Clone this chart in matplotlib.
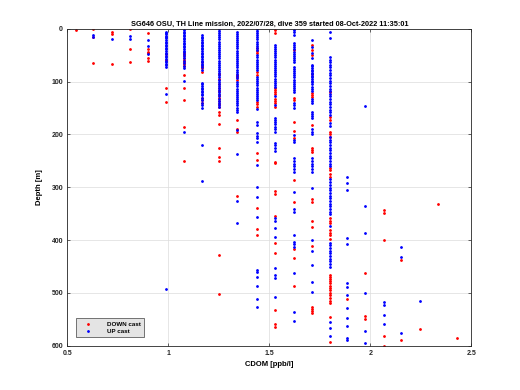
import matplotlib
matplotlib.use('Agg')
import matplotlib.pyplot as plt

# CDOM sensor values are quantized, one column per level
cdom_levels = [0.542, 0.629, 0.720, 0.810, 0.898, 0.990, 1.080, 1.165, 1.252, 1.341,
               1.440, 1.530, 1.620, 1.710, 1.800, 1.885, 1.975, 2.066, 2.154, 2.245,
               2.334, 2.430]

# depths [m] of samples at each level, down cast
down_depths = [
    [2],
    [1, 16, 64],
    [5, 10, 67],
    [1, 38, 63],
    [8, 39, 43, 46, 56, 60],
    [47, 58, 111, 139],
    [46, 50, 55, 58, 62, 66, 71, 87, 111, 135, 185, 250],
    [62, 70, 75, 82, 131, 135, 140],
    [85, 95, 105, 112, 118, 125, 130, 136, 142, 148, 157, 163, 180, 225, 242, 250, 428, 502],
    [87, 92, 97, 172, 190, 195, 317],
    [37, 42, 46, 82, 87, 138, 143, 148, 235, 248, 339, 379, 390],
    [2, 8, 112, 116, 120, 124, 132, 136, 140, 148, 252, 254, 307, 313, 354, 405, 424, 532, 559, 564],
    [40, 130, 135, 176, 193, 206, 286, 327, 417, 433, 487],
    [30, 40, 50, 85, 122, 126, 129, 182, 226, 230, 233, 322, 328, 364, 375, 412, 526, 530, 535, 539],
    [119, 166, 172, 195, 200, 204, 263, 268, 275, 280, 358, 363, 368, 381, 386, 391, 397,
     466, 470, 474, 478, 482, 486, 490, 495, 500, 504, 510, 515, 519, 545, 593],
    [512],
    [462, 544, 549],
    [343, 348, 400, 582, 600],
    [438, 590],
    [569],
    [332],
    [586],
]

# depths [m] of samples at each level, up cast
up_depths = [
    [],
    [11, 15],
    [19],
    [13, 19],
    [21, 32, 48],
    [5, 8, 10, 13, 15, 18, 21, 24, 27, 30, 33, 36, 39, 42, 45, 48, 51, 54, 57, 60, 63, 66,
     69, 72, 124, 493],
    [2, 5, 8, 11, 14, 17, 20, 23, 26, 29, 32, 35, 38, 41, 44, 48, 52, 56, 60, 64, 70, 74,
     99, 195],
    [12, 15, 18, 21, 24, 27, 30, 33, 36, 39, 42, 45, 48, 51, 54, 57, 60, 63, 66, 69, 72, 78,
     102, 105, 108, 111, 114, 117, 120, 123, 126, 130, 135, 140, 145, 150, 220, 288],
    [0, 4, 8, 12, 16, 20, 24, 28, 32, 36, 40, 44, 48, 52, 56, 60, 64, 68, 72, 76, 80, 84, 88,
     92, 96, 100, 104, 108, 112, 116, 120, 124, 128, 132, 136, 140, 144, 148],
    [5, 9, 13, 17, 21, 25, 29, 33, 37, 41, 45, 49, 53, 57, 61, 65, 69, 73, 77, 81, 85, 89,
     93, 101, 105, 109, 113, 117, 121, 125, 129, 133, 137, 141, 145, 149, 153, 157, 191,
     237, 326, 367],
    [0, 4, 8, 12, 16, 20, 24, 28, 32, 36, 40, 50, 54, 58, 62, 66, 70, 74, 78, 91, 95, 99,
     103, 107, 111, 115, 119, 123, 127, 131, 135, 152, 177, 182, 197, 202, 207, 214, 258,
     299, 318, 356, 457, 461, 470, 487, 512, 527],
    [30, 34, 38, 42, 46, 50, 54, 58, 62, 66, 70, 74, 78, 82, 86, 90, 94, 98, 102, 106, 110,
     127, 145, 168, 172, 176, 180, 185, 190, 195, 216, 220, 226, 232, 358, 364, 377, 394,
     452, 466, 472, 508],
    [2, 6, 11, 27, 31, 35, 39, 43, 47, 51, 55, 59, 63, 72, 76, 80, 84, 88, 92, 96, 100, 104,
     108, 112, 116, 120, 140, 145, 150, 201, 210, 215, 245, 250, 255, 260, 265, 271, 308,
     341, 347, 390, 404, 408, 413, 462, 537, 553],
    [21, 35, 45, 55, 68, 71, 74, 77, 80, 83, 86, 89, 92, 95, 98, 101, 104, 110, 114, 118,
     133, 137, 141, 157, 161, 165, 169, 190, 195, 200, 245, 250, 255, 260, 265, 271, 301,
     400, 420, 447, 480, 498],
    [5, 17, 53, 58, 63, 68, 73, 78, 83, 88, 93, 98, 103, 108, 113, 118, 123, 128, 133, 138,
     143, 148, 153, 158, 163, 178, 183, 205, 210, 215, 220, 225, 230, 235, 240, 245, 250,
     255, 260, 285, 290, 296, 301, 306, 311, 316, 321, 326, 331, 336, 341, 346, 351, 373,
     405, 410, 415, 420, 425, 430, 435, 440, 445, 451, 555, 567, 581],
    [280, 291, 305, 396, 407, 481, 489, 504, 529, 548, 563, 585, 590],
    [146, 335, 387, 500, 572, 595],
    [518, 523, 541, 559],
    [414, 432, 576],
    [515],
    [],
    [],
]

plt.rcParams['font.family'] = ['Liberation Sans', 'DejaVu Sans']
plt.rcParams['font.weight'] = 'bold'

fig = plt.figure(figsize=(5.2, 3.9), dpi=100)
ax = fig.add_axes([0.1294, 0.1136, 0.7769, 0.8123])

dx, dy = [], []
for level, depths in zip(cdom_levels, down_depths):
    dx += [level] * len(depths)
    dy += depths
ux, uy = [], []
for level, depths in zip(cdom_levels, up_depths):
    ux += [level] * len(depths)
    uy += depths

ax.plot(dx, dy, '.', color='#ff0000', markersize=2, label='DOWN cast')
ax.plot(ux, uy, '.', color='#0000ff', markersize=2, label='UP cast')

ax.set_xlim(0.5, 2.5)
ax.set_ylim(600, 0)
ax.set_xticks([0.5, 1, 1.5, 2, 2.5])
ax.set_xticklabels(['0.5', '1', '1.5', '2', '2.5'])
ax.set_yticks([0, 100, 200, 300, 400, 500, 600])
ax.grid(True, color='#dcdcdc', linewidth=0.5)
ax.set_axisbelow(True)
for s in ax.spines.values():
    s.set_color('#262626')
    s.set_linewidth(0.6)
ax.tick_params(direction='in', length=2.5, width=0.5, labelsize=5, top=True, right=True,
               colors='#262626', pad=3)

ax.set_xlabel('CDOM [ppb/l]', fontsize=5.5, fontweight='bold', labelpad=3)
ax.set_ylabel('Depth [m]', fontsize=5.5, fontweight='bold', labelpad=6)
ax.set_title('SG646 OSU, TH Line mission, 2022/07/28, dive 359 started 08-Oct-2022 11:35:01',
             fontsize=5.3, fontweight='bold', pad=2.5)

leg = ax.legend(loc='lower left', bbox_to_anchor=(0.0215, 0.0265), borderaxespad=0,
                fontsize=4.5, frameon=True, fancybox=False, framealpha=1,
                facecolor='#e4e4e4', edgecolor='#404040', handlelength=3,
                handletextpad=1.5, borderpad=0.5, labelspacing=0.3, markerscale=1)
leg.get_frame().set_linewidth(0.5)

fig.savefig('out.png', dpi=100)
